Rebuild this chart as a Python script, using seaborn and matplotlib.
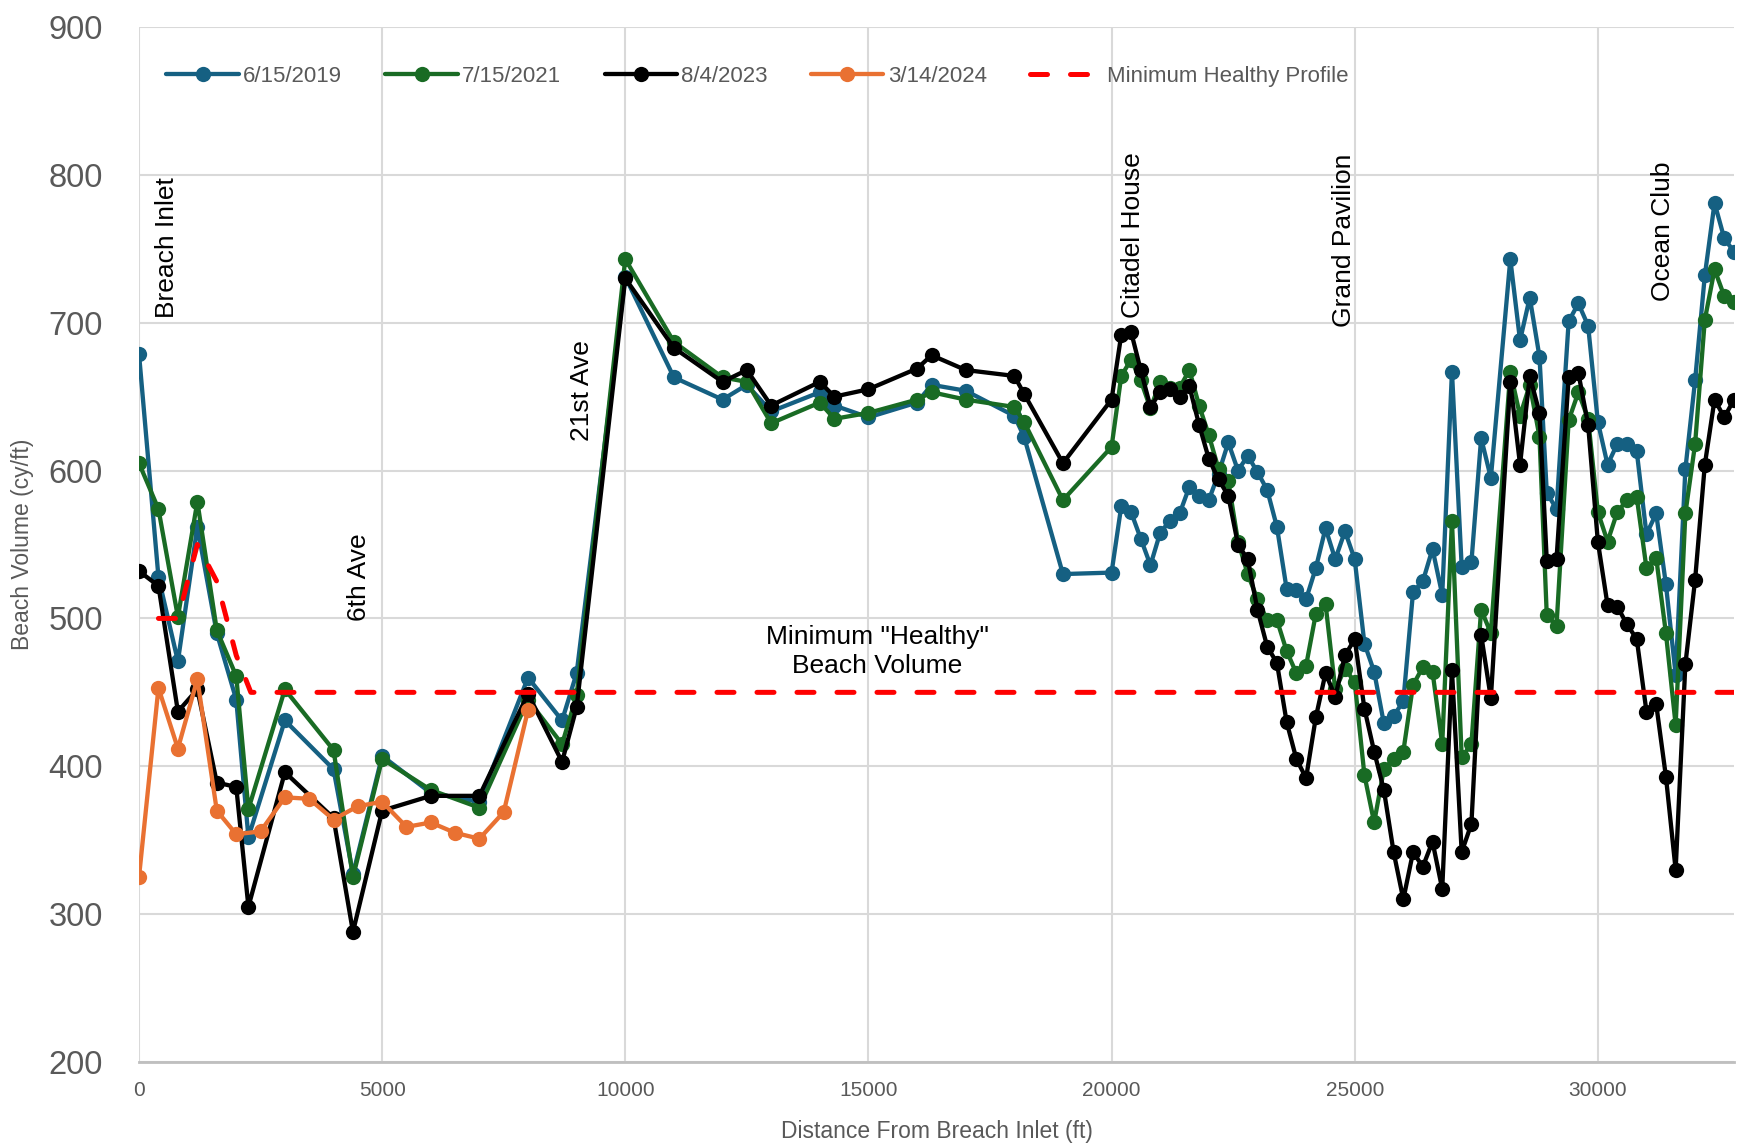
import seaborn as sns
import matplotlib.pyplot as plt

# survey stations shared by the 2019 / 2021 / 2023 profiles (ft from Breach Inlet)
stations = [0, 400, 800, 1200, 1600, 2000, 2250, 3000, 4000, 4400, 5000, 6000, 7000, 8000, 8700, 9000, 10000,
            11000, 12000, 12500, 13000, 14000, 14300, 15000, 16000, 16300, 17000, 18000, 18200, 19000, 20000,
            20200, 20400, 20600, 20800, 21000, 21200, 21400, 21600, 21800, 22000,
            22200, 22400, 22600, 22800, 23000, 23200, 23400, 23600, 23800, 24000,
            24200, 24400, 24600, 24800, 25000, 25200, 25400, 25600, 25800, 26000,
            26200, 26400, 26600, 26800, 27000, 27200, 27400, 27600, 27800,
            28200, 28400, 28600, 28800, 28950, 29150, 29400, 29600, 29800, 30000,
            30200, 30400, 30600, 30800, 31000, 31200, 31400, 31600, 31800, 32000,
            32200, 32400, 32600, 32800, 33000]

vol_2019 = [679, 528, 471, 562, 490, 445, 352, 431, 398, 327, 407, 382, 376, 460, 431, 463, 731,
            663, 648, 658, 640, 653, 644, 636, 646, 658, 654, 637, 623, 530, 531,
            576, 572, 554, 536, 558, 566, 571, 589, 583, 580,
            598, 619, 600, 610, 599, 587, 562, 520, 519, 513,
            534, 561, 540, 559, 540, 483, 464, 429, 434, 444,
            518, 525, 547, 516, 667, 535, 538, 622, 595,
            743, 688, 717, 677, 585, 574, 701, 713, 698, 633,
            604, 618, 618, 613, 557, 571, 523, 462, 601, 661,
            732, 781, 757, 748, 765]

vol_2021 = [605, 574, 501, 579, 492, 461, 371, 452, 411, 325, 405, 384, 372, 445, 415, 448, 743,
            687, 663, 660, 632, 646, 635, 639, 648, 653, 648, 643, 633, 580, 616,
            664, 675, 661, 642, 660, 656, 656, 668, 644, 624,
            601, 593, 552, 530, 513, 499, 499, 478, 463, 468,
            503, 510, 452, 466, 457, 394, 362, 398, 405, 410,
            455, 467, 464, 415, 566, 406, 415, 506, 490,
            667, 637, 658, 623, 502, 495, 634, 653, 635, 572,
            552, 572, 580, 582, 534, 541, 490, 428, 571, 618,
            702, 736, 718, 714, 728]

vol_2023 = [532, 522, 437, 452, 389, 386, 305, 396, 365, 288, 370, 380, 380, 449, 403, 440, 730,
            683, 660, 668, 644, 660, 650, 655, 669, 678, 668, 664, 652, 605, 648,
            692, 694, 668, 643, 653, 655, 650, 657, 631, 608,
            594, 583, 550, 540, 506, 481, 470, 430, 405, 392,
            433, 463, 447, 475, 486, 439, 410, 384, 342, 310,
            342, 332, 349, 317, 465, 342, 361, 489, 446,
            660, 604, 664, 639, 539, 540, 663, 666, 631, 552,
            509, 508, 496, 486, 437, 442, 393, 330, 469, 526,
            604, 648, 636, 648, 665]

# 2024 survey only covers the north end
stations_2024 = [0, 400, 800, 1200, 1600, 2000, 2500, 3000, 3500, 4000, 4500, 5000, 5500, 6000, 6500, 7000, 7500, 8000]
vol_2024 = [325, 453, 412, 459, 370, 354, 356, 379, 378, 364, 373, 376, 359, 362, 355, 351, 369, 438]

healthy_x = [400, 800, 1200, 1600, 2000, 2300, 33000]
healthy_y = [500, 500, 550, 525, 475, 450, 450]

landmarks = ['Breach Inlet', '6th Ave', '21st Ave', 'Citadel House', 'Grand Pavilion', 'Ocean Club']
landmark_x = [570, 4520, 9110, 20440, 24780, 31330]
landmark_y = [703, 498, 620, 703, 697, 715]

sns.set_style('white')
plt.rcParams['font.family'] = ['Liberation Sans', 'DejaVu Sans']

fig = plt.figure(figsize=(17.4, 11.47), dpi=100)
ax = fig.add_axes([139 / 1740, 1 - 1062 / 1147, (1734 - 139) / 1740, (1062 - 27) / 1147])

series = [
    ('6/15/2019', stations, vol_2019, '#156082'),
    ('7/15/2021', stations, vol_2021, '#196B24'),
    ('8/4/2023', stations, vol_2023, '#000000'),
    ('3/14/2024', stations_2024, vol_2024, '#E97132'),
]
for label, xs, ys, color in series:
    sns.lineplot(x=xs, y=ys, ax=ax, color=color, label=label, sort=False, errorbar=None,
                 marker='o', markersize=11, markeredgewidth=0, linewidth=3.1, zorder=3)

sns.lineplot(x=healthy_x, y=healthy_y, ax=ax, color='#FF0000', label='Minimum Healthy Profile',
             sort=False, errorbar=None, linewidth=3.6, linestyle=(0, (3.4, 4.6)),
             dash_capstyle='round', zorder=4)

for name, lx, ly in zip(landmarks, landmark_x, landmark_y):
    ax.text(lx, ly, name, rotation=90, ha='center', va='bottom', fontsize=19, color='black')

ax.text(15185, 477.5, 'Minimum "Healthy"\nBeach Volume', ha='center', va='center',
        fontsize=19, color='black', linespacing=1.25)

ax.set_xlim(0, 32800)
ax.set_ylim(200, 900)
ax.set_xticks(range(0, 30001, 5000))
ax.set_yticks(range(200, 901, 100))
ax.grid(True, color='#D9D9D9', linewidth=1.5)
ax.set_axisbelow(True)
for side in ['top', 'right', 'left']:
    ax.spines[side].set_visible(False)
ax.spines['bottom'].set_color('#BFBFBF')
ax.spines['bottom'].set_linewidth(2)

ax.tick_params(axis='y', labelsize=23.5, labelcolor='#595959', length=0, pad=26)
ax.tick_params(axis='x', labelsize=15, labelcolor='#595959', length=0, pad=14)

ax.set_xlabel('Distance From Breach Inlet (ft)', fontsize=16.5, color='#595959')
ax.set_ylabel('Beach Volume (cy/ft)', fontsize=16.5, color='#595959')
ax.xaxis.set_label_coords(0.5, -0.056)
ax.yaxis.set_label_coords(-0.066, 0.5)

ax.legend(loc='center left', bbox_to_anchor=(0.0172, 0.952), ncol=5, frameon=False,
          fontsize=16, handlelength=3.25, handletextpad=0.2, columnspacing=1.95,
          borderaxespad=0, borderpad=0, labelcolor='#595959')

plt.savefig('out.png', dpi=100)
plt.close()
